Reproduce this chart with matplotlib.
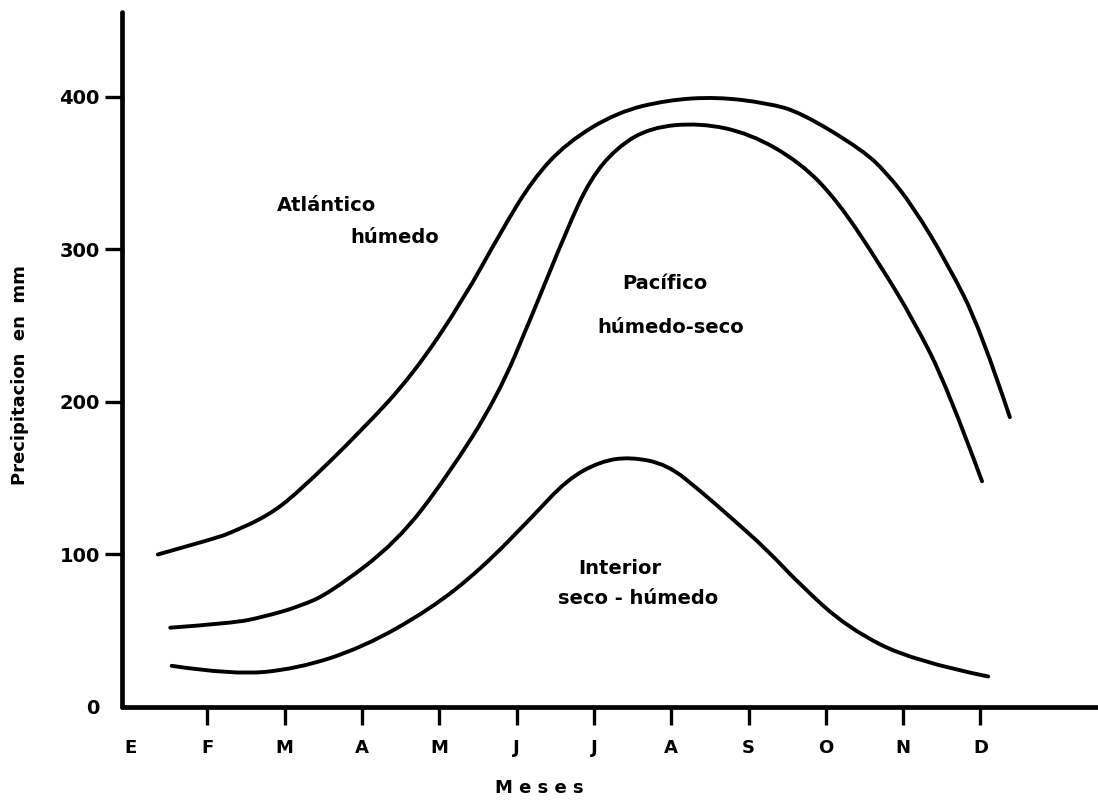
import numpy as np
import matplotlib
matplotlib.use("Agg")
import matplotlib.pyplot as plt
from matplotlib.path import Path
from matplotlib.patches import PathPatch

plt.rcParams.update({
    "font.family": "DejaVu Sans",
    "font.weight": "bold",
})

# ---------------- data ----------------

months = ["E", "F", "M", "A", "M", "J", "J", "A", "S", "O", "N", "D"]

# x in month units (0 = E), y in mm
atl_x = [0.36, 1.13, 1.29, 1.77, 2.16, 3.01, 3.66, 4.31, 4.79, 5.21, 5.65,
         6.30, 6.95, 7.59, 8.24, 8.67, 9.48, 9.79, 10.13, 10.57, 11.00, 11.38]
atl_y = [100, 111, 114, 125, 140, 182, 218, 267, 311, 346, 370,
         390, 398, 400, 396, 390, 365, 350, 328, 291, 248, 190]

pac_x = [0.52, 1.33, 1.72, 2.20, 2.59, 3.45, 4.10, 4.75, 5.21, 5.65, 5.95,
         6.30, 6.73, 7.37, 8.02, 8.67, 9.15, 9.70, 10.13, 10.57, 11.02]
pac_y = [52, 55, 59, 66, 75, 108, 151, 203, 258, 313, 346,
         367, 380, 383, 376, 357, 332, 290, 254, 210, 148]

int_x = [0.54, 1.33, 2.16, 3.01, 3.88, 4.53, 5.21, 5.65, 6.08, 6.47, 6.95,
         7.37, 7.80, 8.24, 8.67, 9.28, 10.13, 11.10]
int_y = [27, 21, 25, 39, 64, 90, 125, 149, 161, 164, 159,
         142, 123, 103, 80, 52, 30, 20]

yticks = [0, 100, 200, 300, 400]

# ---------------- helpers ----------------

def smooth_path(xs, ys):
    # quadratic segments using the read points as control points
    p = np.column_stack([xs, ys]).astype(float)
    verts = [p[0]]
    codes = [Path.MOVETO]
    n = len(p)
    for i in range(1, n - 1):
        end = p[n - 1] if i == n - 2 else (p[i] + p[i + 1]) / 2
        verts += [p[i], end]
        codes += [Path.CURVE3, Path.CURVE3]
    return Path(verts, codes)

# ---------------- plot ----------------

fig = plt.figure(figsize=(10.98, 8.0), dpi=100)
ax = fig.add_axes([122 / 1098, 93 / 800, 976 / 1098, 695 / 800])

for xs, ys in [(atl_x, atl_y), (pac_x, pac_y), (int_x, int_y)]:
    patch = PathPatch(smooth_path(xs, ys), fill=False, edgecolor="black",
                      linewidth=2.8, capstyle="round", joinstyle="round")
    ax.add_patch(patch)

ax.set_xlim(-0.1035, 12.52)
ax.set_ylim(0, 455.7)

for side in ["top", "right"]:
    ax.spines[side].set_visible(False)
for side in ["left", "bottom"]:
    ax.spines[side].set_linewidth(3.4)
    ax.spines[side].set_capstyle("round")

ax.set_xticks(range(len(months)))
ax.set_xticklabels(months, fontsize=13, fontweight="bold")
ax.set_yticks(yticks)
ax.set_yticklabels([str(v) for v in yticks], fontsize=14, fontweight="bold")
ax.tick_params(axis="x", direction="out", length=13, width=2.4, pad=10)
ax.tick_params(axis="y", direction="out", length=12, width=2.4, pad=4)
ax.xaxis.get_major_ticks()[0].tick1line.set_visible(False)
ax.yaxis.get_major_ticks()[0].tick1line.set_visible(False)

ax.set_xlabel("M e s e s", fontsize=13, fontweight="bold")
ax.xaxis.set_label_coords(0.428, -0.103)
ax.set_ylabel("Precipitacion  en  mm", fontsize=13, fontweight="bold")
ax.yaxis.set_label_coords(-0.095, 0.478)

lab = dict(fontsize=14, fontweight="bold", va="center")
ax.text(1.90, 329, "Atlántico", ha="left", **lab)
ax.text(2.85, 308, "húmedo", ha="left", **lab)
ax.text(6.92, 278, "Pacífico", ha="center", **lab)
ax.text(7.00, 249, "húmedo-seco", ha="center", **lab)
ax.text(5.80, 90.5, "Interior", ha="left", **lab)
ax.text(5.54, 71, "seco - húmedo", ha="left", **lab)

fig.savefig("out.png", dpi=100)
